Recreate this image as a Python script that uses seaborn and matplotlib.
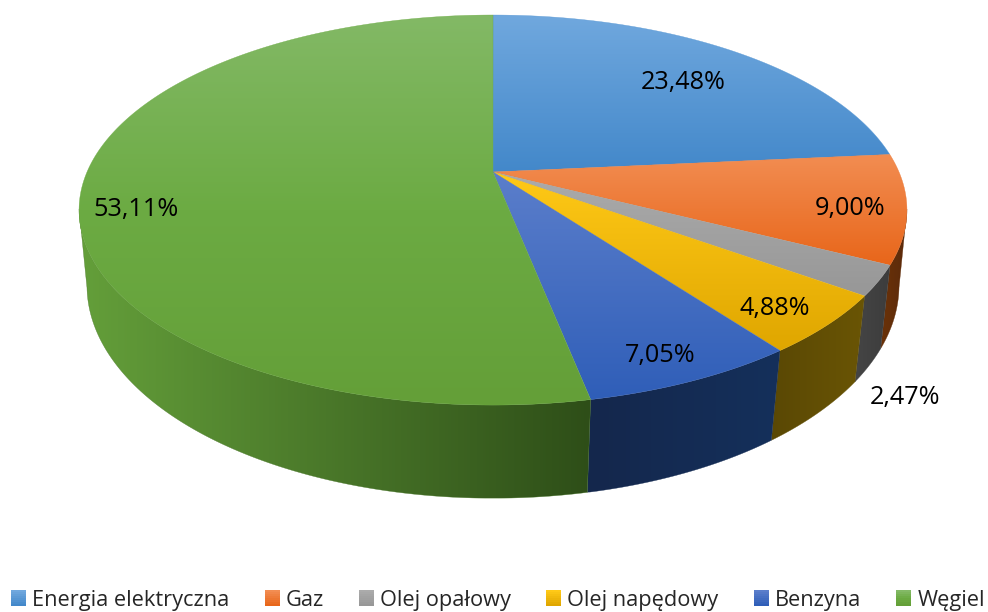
import numpy as np
import matplotlib
matplotlib.use("Agg")
import matplotlib.pyplot as plt
from matplotlib.patches import Polygon, Rectangle
from matplotlib.legend_handler import HandlerBase
import seaborn as sns

categories = ["Energia elektryczna", "Gaz", "Olej opałowy", "Olej napędowy", "Benzyna", "Węgiel"]
values = [23.48, 9.00, 2.47, 4.88, 7.05, 53.11]

# colours: top surface gradient (light, dark), wall gradient (left, right)
top_colors = [("#70a8de", "#4388ca"), ("#f28d52", "#e8661a"), ("#ababab", "#979797"),
              ("#ffc917", "#dfa600"), ("#5b7ecb", "#2f5eb8"), ("#83b966", "#6cab43", "#649f38")]
wall_colors = [("#3f6a9a", "#3f6a9a"), ("#6b3208", "#5a2a0c"), ("#454545", "#3c3c3c"),
               ("#5a4804", "#6a5505"), ("#14274c", "#15305b"), ("#649f3a", "#2e4e18")]

# label placement, polar on the pie (degrees clockwise from top, radius)
label_angle = [44, 102, 139.6, 136, 157, 257.7]
label_radius = [0.746, 0.867, 1.27, 0.876, 0.885, 0.868]

sns.set_theme(style="white")
plt.rcParams["font.family"] = ["Open Sans", "DejaVu Sans"]

# perspective of the top face and of the bottom face
TOP = dict(x0=493, y0=172, a=406, c=187.6, k=0.195)
BOTTOM = dict(x0=493, y0=247, a=399.4, c=206, k=0.18)
# part of the rim that faces the viewer
WALL_FROM, WALL_TO = 101, 259


def project(deg, face, r=1.0):
    t = np.radians(deg)
    u, v = r * np.sin(t), r * np.cos(t)
    d = 1 + face["k"] * v
    return face["x0"] + face["a"] * u / d, face["y0"] - face["c"] * v / d


def gradient(ax, poly, colors, vertical=True, z=1):
    # fill a polygon with a linear gradient, thin edge softens the jagged clip
    (xa, ya), (xb, yb) = poly.min(axis=0), poly.max(axis=0)
    cmap = sns.blend_palette(colors, as_cmap=True)
    ramp = np.linspace(0, 1, 256)
    ramp = ramp[:, None] if vertical else ramp[None, :]
    im = ax.imshow(ramp, cmap=cmap, extent=(xa, xb, yb, ya), origin="upper",
                   aspect="auto", zorder=z, interpolation="bilinear")
    mid = sns.blend_palette(colors, 3)[1]
    patch = Polygon(poly, closed=True, fc="none", ec=mid, lw=0.25, zorder=z)
    ax.add_patch(patch)
    im.set_clip_path(patch)


fig = plt.figure(figsize=(9.88, 6.12), dpi=100)
ax = fig.add_axes([0, 0, 1, 1])
ax.axis("off")

edges = np.concatenate([[0], np.cumsum(values)]) / np.sum(values) * 360

# walls first, then the top face over them
for i in range(len(values)):
    start, end = max(edges[i], WALL_FROM), min(edges[i + 1], WALL_TO)
    if end <= start:
        continue
    t = np.linspace(start, end, 120)
    xt, yt = project(t, TOP)
    xb, yb = project(t, BOTTOM)
    poly = np.r_[np.c_[xt, yt], np.c_[xb, yb][::-1]]
    gradient(ax, poly, wall_colors[i], vertical=False, z=1)

for i in range(len(values)):
    t = np.linspace(edges[i], edges[i + 1], 240)
    xt, yt = project(t, TOP)
    poly = np.r_[[[TOP["x0"], TOP["y0"]]], np.c_[xt, yt]]
    gradient(ax, poly, top_colors[i], vertical=True, z=2)

for val, deg, r in zip(values, label_angle, label_radius):
    x, y = project(deg, TOP, r)
    ax.text(x, y + 1.5, f"{val:.2f}%".replace(".", ","), ha="center", va="center",
            fontsize=18.2, color="black", zorder=3)

ax.set_xlim(0, 988)
ax.set_ylim(612, 0)


class GradientBox(HandlerBase):
    # legend key built from thin strips
    def create_artists(self, legend, orig, xd, yd, w, h, fontsize, trans):
        shades = sns.blend_palette(orig, 8)
        return [Rectangle((xd, yd + h - (n + 1) * h / 8), w, h / 8 + 0.1, fc=s, ec="none",
                          transform=trans) for n, s in enumerate(shades)]


handler = GradientBox()
fig.legend(top_colors, categories, handler_map={tuple: handler}, ncol=6, loc="lower center",
           bbox_to_anchor=(0.504, -0.019), frameon=False, fontsize=15.7, labelcolor="#262626",
           handlelength=0.69, handleheight=0.69, handletextpad=0.27, columnspacing=1.62,
           borderpad=0.1)

fig.savefig("out.png", dpi=100)
